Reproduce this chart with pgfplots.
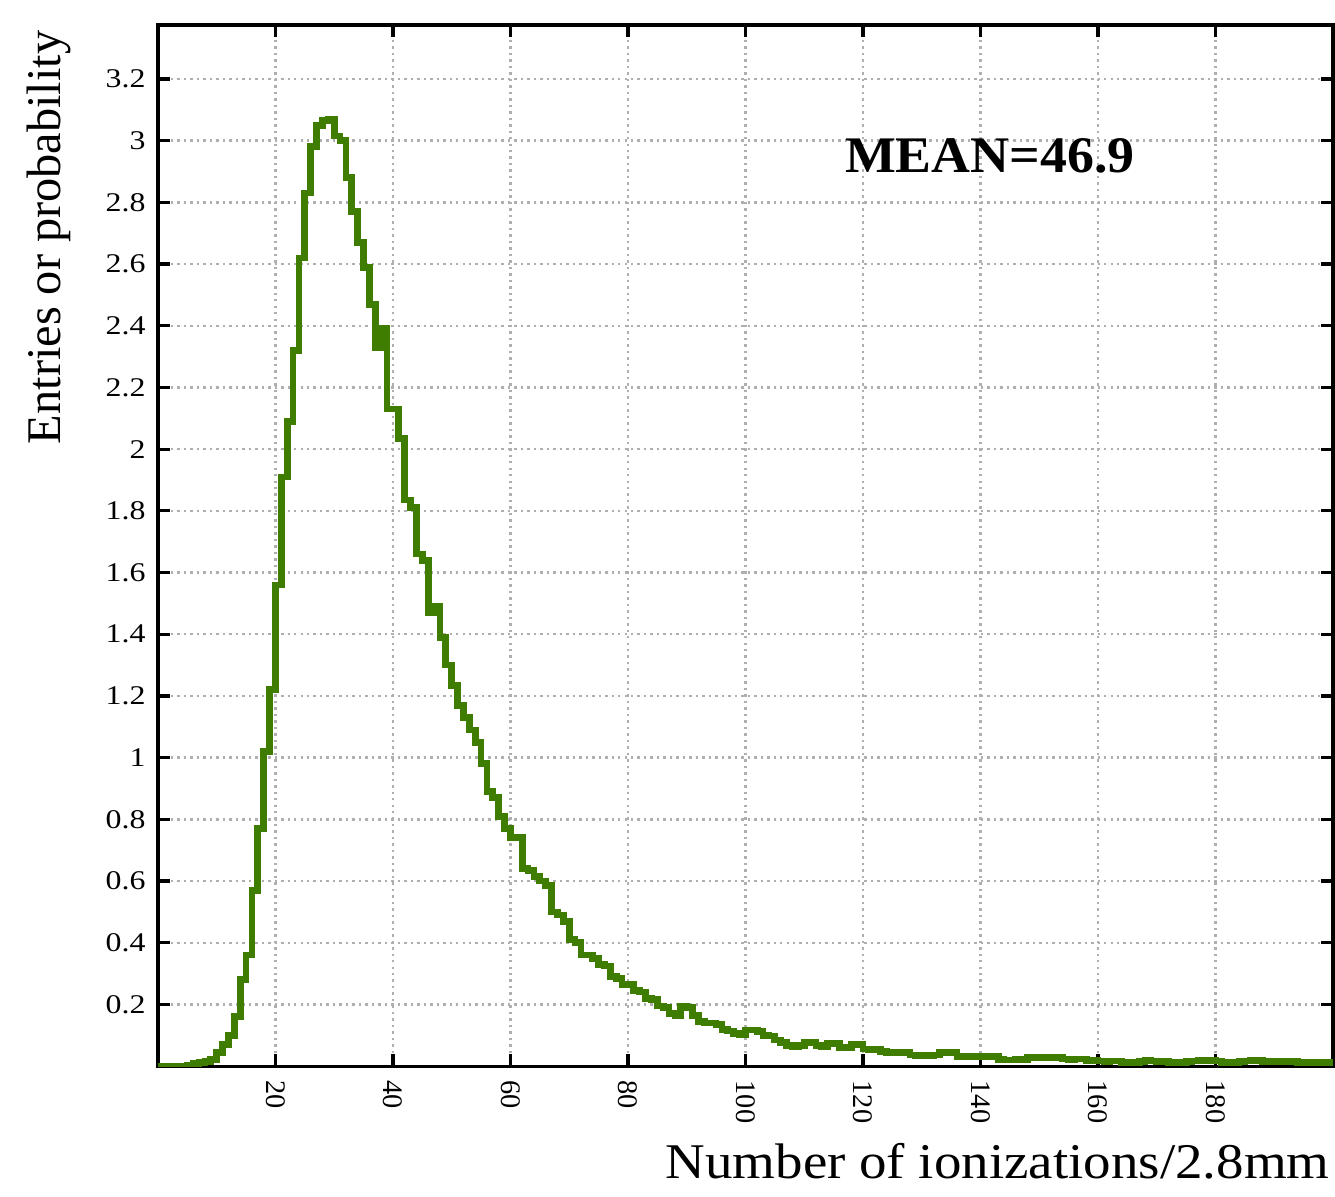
\documentclass[border=0pt]{standalone}
\usepackage{fontspec}
\setmainfont{Liberation Serif}
\newfontfamily\ytfont{Liberation Serif}[FakeStretch=1.18]
\newfontfamily\xlfont{Liberation Serif}[FakeStretch=1.1]
\newfontfamily\mfont{Liberation Serif}[FakeStretch=1.05]
\usepackage{pgfplots}
\pgfplotsset{compat=1.18}
\definecolor{histgreen}{RGB}{62,125,0}
\definecolor{gridgray}{RGB}{175,175,175}
\begin{document}
\begin{tikzpicture}
\begin{axis}[
  scale only axis, width=435.2pt, height=385.6pt,
  xmin=0, xmax=200, ymin=0, ymax=3.375,
  xtick={20,40,60,80,100,120,140,160,180},
  ytick={0.2,0.4,0.6,0.8,1,1.2,1.4,1.6,1.8,2,2.2,2.4,2.6,2.8,3,3.2},
  /pgf/number format/assume math mode=true,
  grid=major,
  grid style={gridgray, line width=0.9pt, dash pattern=on 0.9pt off 1.5pt},
  axis line style={line width=1.2pt},
  major tick style={black, line width=1.2pt},
  major tick length=4.4pt,
  tick align=inside,
  yticklabel style={font=\ytfont\fontsize{10}{12}\selectfont, anchor=east, inner xsep=4.4pt, inner ysep=0pt},
  xticklabel style={font=\fontsize{10.5}{12}\selectfont, rotate=-90, anchor=west, inner xsep=5.2pt, inner ysep=0pt},
]
\addplot[const plot, histgreen, line width=2.5pt, line join=miter] table[row sep=\\] {
x y\\
0 0\\ 1 0\\ 2 0\\ 3 0\\ 4 0\\ 5 0.003\\ 6 0.008\\ 7 0.012\\ 8 0.014\\ 9 0.022\\
10 0.045\\ 11 0.07\\ 12 0.10\\ 13 0.16\\ 14 0.28\\ 15 0.36\\ 16 0.57\\ 17 0.77\\ 18 1.02\\ 19 1.22\\
20 1.56\\ 21 1.91\\ 22 2.09\\ 23 2.32\\ 24 2.62\\ 25 2.83\\ 26 2.98\\ 27 3.05\\ 28 3.065\\ 29 3.07\\
30 3.015\\ 31 3.0\\ 32 2.88\\ 33 2.77\\ 34 2.67\\ 35 2.59\\ 36 2.47\\ 37 2.33\\ 38 2.39\\ 39 2.13\\
40 2.13\\ 41 2.035\\ 42 1.835\\ 43 1.81\\ 44 1.66\\ 45 1.64\\ 46 1.47\\ 47 1.49\\ 48 1.39\\ 49 1.30\\
50 1.235\\ 51 1.17\\ 52 1.13\\ 53 1.09\\ 54 1.05\\ 55 0.98\\ 56 0.89\\ 57 0.87\\ 58 0.81\\ 59 0.77\\
60 0.74\\ 61 0.74\\ 62 0.64\\ 63 0.635\\ 64 0.615\\ 65 0.60\\ 66 0.585\\ 67 0.50\\ 68 0.49\\ 69 0.47\\
70 0.41\\ 71 0.40\\ 72 0.36\\ 73 0.36\\ 74 0.35\\ 75 0.33\\ 76 0.325\\ 77 0.29\\ 78 0.285\\ 79 0.265\\
80 0.265\\ 81 0.245\\ 82 0.24\\ 83 0.22\\ 84 0.215\\ 85 0.195\\ 86 0.19\\ 87 0.17\\ 88 0.165\\ 89 0.195\\
90 0.19\\ 91 0.165\\ 92 0.145\\ 93 0.14\\ 94 0.14\\ 95 0.136\\ 96 0.12\\ 97 0.114\\ 98 0.105\\ 99 0.103\\
100 0.117\\ 101 0.117\\ 102 0.112\\ 103 0.10\\ 104 0.098\\ 105 0.085\\ 106 0.076\\ 107 0.066\\ 108 0.064\\ 109 0.066\\
110 0.078\\ 111 0.077\\ 112 0.066\\ 113 0.064\\ 114 0.075\\ 115 0.074\\ 116 0.06\\ 117 0.06\\ 118 0.07\\ 119 0.069\\
120 0.056\\ 121 0.055\\ 122 0.054\\ 123 0.047\\ 124 0.045\\ 125 0.046\\ 126 0.045\\ 127 0.044\\ 128 0.036\\ 129 0.035\\
130 0.036\\ 131 0.035\\ 132 0.036\\ 133 0.044\\ 134 0.043\\ 135 0.044\\ 136 0.032\\ 137 0.031\\ 138 0.030\\ 139 0.032\\
140 0.031\\ 141 0.030\\ 142 0.031\\ 143 0.021\\ 144 0.020\\ 145 0.020\\ 146 0.021\\ 147 0.020\\ 148 0.028\\ 149 0.027\\
150 0.028\\ 151 0.029\\ 152 0.027\\ 153 0.028\\ 154 0.023\\ 155 0.022\\ 156 0.023\\ 157 0.023\\ 158 0.017\\ 159 0.018\\
160 0.017\\ 161 0.016\\ 162 0.017\\ 163 0.017\\ 164 0.012\\ 165 0.013\\ 166 0.012\\ 167 0.015\\ 168 0.018\\ 169 0.017\\
170 0.016\\ 171 0.017\\ 172 0.013\\ 173 0.012\\ 174 0.013\\ 175 0.016\\ 176 0.017\\ 177 0.018\\ 178 0.019\\ 179 0.018\\
180 0.017\\ 181 0.013\\ 182 0.012\\ 183 0.013\\ 184 0.016\\ 185 0.017\\ 186 0.018\\ 187 0.018\\ 188 0.014\\ 189 0.015\\
190 0.014\\ 191 0.017\\ 192 0.016\\ 193 0.017\\ 194 0.012\\ 195 0.013\\ 196 0.012\\ 197 0.011\\ 198 0.012\\ 199 0.012\\
200 0.012\\
};
\node[anchor=base, inner sep=0pt, font=\mfont\bfseries\fontsize{19}{22}\selectfont] at (axis cs:141.6,2.896) {MEAN=46.9};
\end{axis}
\node[rotate=90, anchor=east, inner sep=0pt, font=\fontsize{17.9}{20}\selectfont] at ([xshift=-40.4pt,yshift=-1.9pt]current axis.north west) {Entries or probability};
\node[anchor=base east, inner sep=0pt, font=\xlfont\fontsize{18.5}{21}\selectfont] at ([xshift=-1.1pt,yshift=-41.5pt]current axis.south east) {Number of ionizations/2.8mm};
\pgfresetboundingbox
\path[use as bounding box] ([xshift=-58.5pt,yshift=-48.1pt]current axis.south west) rectangle ([xshift=0.74pt,yshift=9.26pt]current axis.north east);
\end{tikzpicture}
\end{document}
